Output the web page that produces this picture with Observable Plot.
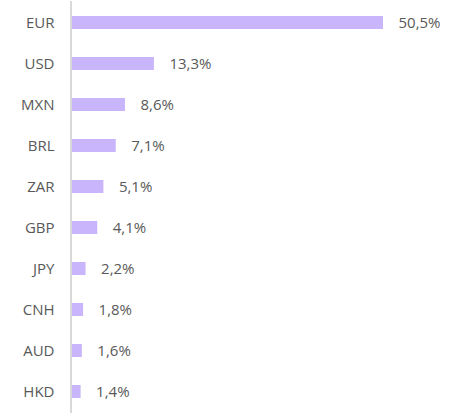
<!DOCTYPE html>
<html>
<head>
<meta charset="utf-8">
<script src="https://cdn.jsdelivr.net/npm/d3@7"></script>
<script src="https://cdn.jsdelivr.net/npm/@observablehq/plot@0.6"></script>
<style>
  html, body { margin: 0; padding: 0; background: #fff; }
  #chart { width: 455px; height: 416px; }
</style>
</head>
<body>
<div id="chart"></div>
<script>
const currencies = ["EUR", "USD", "MXN", "BRL", "ZAR", "GBP", "JPY", "CNH", "AUD", "HKD"];
const shares = [50.5, 13.3, 8.6, 7.1, 5.1, 4.1, 2.2, 1.8, 1.6, 1.4];

const data = currencies.map((c, i) => ({currency: c, share: shares[i]}));
const fmt = v => v.toFixed(1).replace(".", ",") + "%";

const chart = Plot.plot({
  width: 455,
  height: 416,
  marginLeft: 72,
  marginRight: 72,
  marginTop: 1,
  marginBottom: 3,
  style: {fontFamily: "'Open Sans', sans-serif", fontSize: "15px", color: "#595959", background: "#fff"},
  x: {domain: [0, 50.5], axis: null},
  y: {domain: currencies, paddingInner: 0.68, paddingOuter: 0.35, label: null, tickSize: 0, tickPadding: 18},
  marks: [
    Plot.barX(data, {y: "currency", x: "share", fill: "#c9b5fb"}),
    Plot.ruleX([0], {stroke: "#d9d9d9", strokeWidth: 2, dx: -1.5}),
    Plot.text(data, {y: "currency", x: "share", text: d => fmt(d.share), textAnchor: "start", dx: 15, fill: "#595959", fontSize: 15})
  ]
});
document.getElementById("chart").append(chart);
</script>
</body>
</html>
